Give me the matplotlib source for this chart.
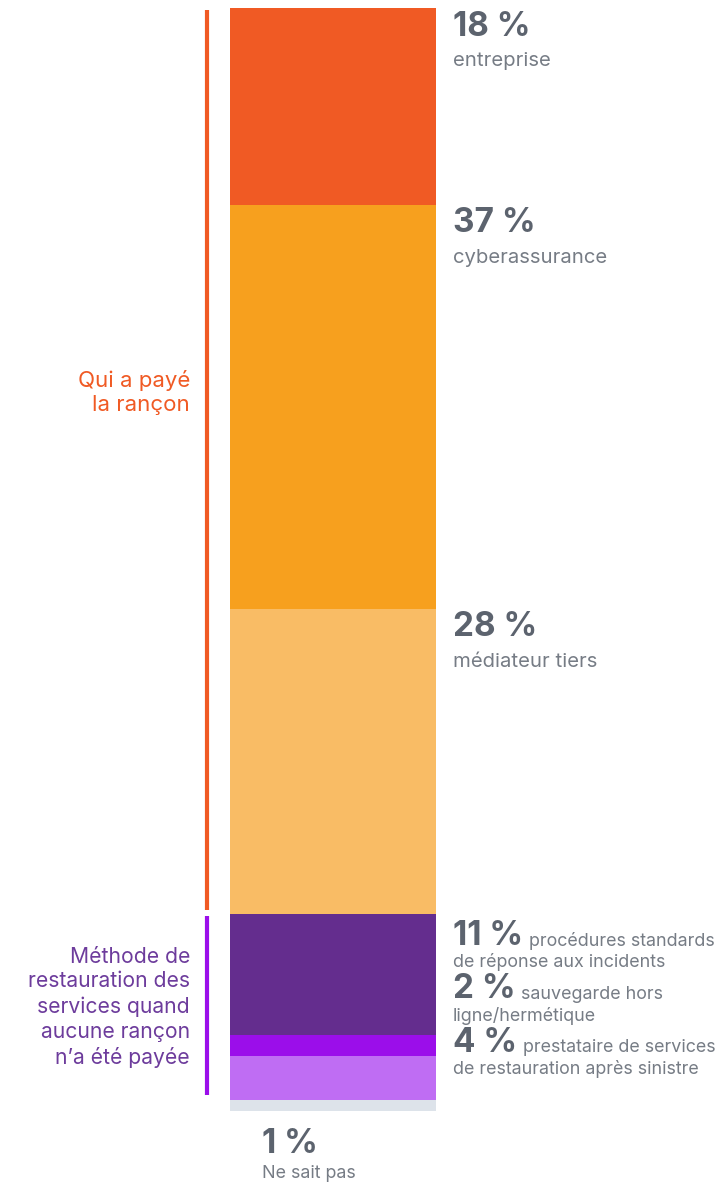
import matplotlib
matplotlib.use('Agg')
import matplotlib.pyplot as plt
import matplotlib.transforms as mtransforms
import numpy as np

plt.rcParams['font.family'] = ['Inter', 'DejaVu Sans']

# Data
values = [18, 37, 28, 11, 2, 4, 1]
pct_labels = ['18 %', '37 %', '28 %', '11 %', '2 %', '4 %', '1 %']
descriptions = ['entreprise', 'cyberassurance', 'médiateur tiers',
                'procédures standards\nde réponse aux incidents',
                'sauvegarde hors\nligne/hermétique',
                'prestataire de services\nde restauration après sinistre',
                'Ne sait pas']
colors = ['#F05A24', '#F7A01E', '#F9BC65', '#642D8E', '#9B0EEA', '#BF6DF3', '#DDE3EA']
group_names = ['Qui a payé\nla rançon',
               'Méthode de\nrestauration des\nservices quand\naucune rançon\nn’a été payée']
group_members = [[0, 1, 2], [3, 4, 5]]
group_colors = ['#F05A24', '#9B0EEA']
group_text_colors = ['#F05A24', '#6D3C9C']

num_color = '#5C636E'
desc_color = '#767C85'

W, H = 721, 1183
fig = plt.figure(figsize=(W / 100, H / 100), dpi=100)
ax = fig.add_axes([230 / W, (H - 1111) / H, 206 / W, 1103 / H])

bottoms = np.concatenate([[0], np.cumsum(values)[:-1]])
ax.bar(0, values, bottom=bottoms, width=1.0, color=colors, align='edge')
ax.set_xlim(0, 1)
ax.set_ylim(sum(values), 0)
ax.axis('off')

# x in figure pixels, y in data
def px(x):
    return (x - 230) / 206

blend = mtransforms.blended_transform_factory(ax.transAxes, ax.transData)

# top three labels: number + description under it
for i in range(3):
    ax.annotate(pct_labels[i], xy=(px(453), bottoms[i]), xycoords=blend,
                xytext=(0, -2), textcoords='offset points',
                ha='left', va='top', fontsize=24, fontweight='bold', color=num_color)
    ax.annotate(descriptions[i], xy=(px(453), bottoms[i]), xycoords=blend,
                xytext=(0, -32), textcoords='offset points',
                ha='left', va='top', fontsize=14.6, fontweight='normal', color=desc_color)

# lower labels stacked from top of the 11 % segment
fig.canvas.draw()
renderer = fig.canvas.get_renderer()
start = bottoms[3]
for k, i in enumerate([3, 4, 5]):
    dy = -4 - k * 38.5
    t = ax.annotate(pct_labels[i], xy=(px(453), start), xycoords=blend,
                    xytext=(0, dy), textcoords='offset points',
                    ha='left', va='top', fontsize=24, fontweight='bold', color=num_color)
    bb = t.get_window_extent(renderer)
    w_pt = bb.width * 72 / fig.dpi
    first, second = descriptions[i].split('\n')
    ax.annotate(first, xy=(px(453), start), xycoords=blend,
                xytext=(w_pt + 4, dy - 9), textcoords='offset points',
                ha='left', va='top', fontsize=12.9, fontweight='normal', color=desc_color)
    ax.annotate(second, xy=(px(453), start), xycoords=blend,
                xytext=(0, dy - 24), textcoords='offset points',
                ha='left', va='top', fontsize=12.9, fontweight='normal', color=desc_color)

# "ne sait pas" below the bar
ax.annotate(pct_labels[6], xy=(px(262), sum(values)), xycoords=blend,
            xytext=(0, -12), textcoords='offset points',
            ha='left', va='top', fontsize=24, fontweight='bold', color=num_color)
ax.annotate(descriptions[6], xy=(px(262), sum(values)), xycoords=blend,
            xytext=(0, -48), textcoords='offset points',
            ha='left', va='baseline', fontsize=12.9, fontweight='normal', color=desc_color)

# group brackets and labels
for members, name, lc, tc in zip(group_members, group_names, group_colors, group_text_colors):
    y0 = bottoms[members[0]] + 0.15
    y1 = bottoms[members[-1]] + values[members[-1]] - 0.45
    ax.plot([px(207), px(207)], [y0, y1], transform=blend, clip_on=False,
            color=lc, lw=3, solid_capstyle='butt')

ax.text(px(190), 35.2, group_names[0], transform=blend, ha='right', va='center',
        fontsize=16, fontweight='normal', color=group_text_colors[0], linespacing=1.3)
ymid = bottoms[3] + (values[3] + values[4] + values[5]) / 2
ax.text(px(190), ymid, group_names[1], transform=blend, ha='right', va='center',
        fontsize=15.2, fontweight='normal', color=group_text_colors[1], linespacing=1.3)

fig.savefig('out.png', dpi=100, facecolor='white')
